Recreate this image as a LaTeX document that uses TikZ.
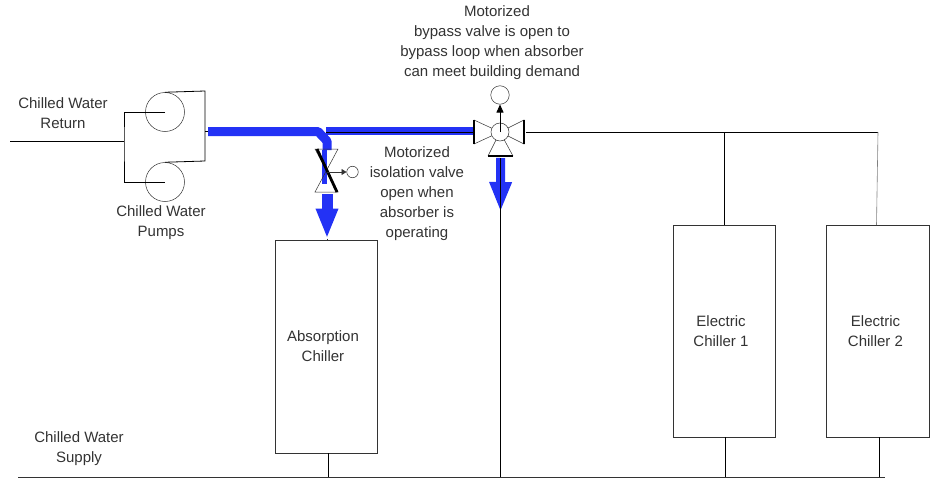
\documentclass[tikz,border=0pt]{standalone}
\usepackage{fontspec}
\setmainfont{Liberation Sans}
\usepackage{xcolor}
\usetikzlibrary{
    arrows.meta,
    shapes.geometric,
    positioning
}
\definecolor{flowblue}{HTML}{2332F5}
\definecolor{pipegray}{HTML}{333333}
\tikzset{
    % Chiller box
    chillerbox/.style={
        rectangle,
        draw=pipegray,
        fill=white,
        line width=0.8pt,
        font=\fontsize{15}{20}\selectfont,
        text=pipegray,
        align=center,
        inner sep=0pt
    },
    % Text label
    notelabel/.style={
        font=\fontsize{15}{20}\selectfont,
        text=pipegray,
        align=center,
        inner sep=0pt
    },
    % Pump or actuator circle
    pumpcircle/.style={
        circle,
        draw=pipegray,
        fill=none,
        line width=0.5pt,
        inner sep=0pt,
        minimum size=#1
    },
    % Plain pipe
    pipe/.style={
        draw=black,
        line width=0.8pt
    },
    % Thick flow line
    flowline/.style={
        draw=flowblue,
        line width=#1
    },
    % Flow arrow
    flowarrow/.style={
        -{Triangle[length=30pt,width=20.5pt]},
        draw=flowblue,
        line width=#1
    },
    % Valve body
    valvepart/.style={
        draw=pipegray,
        line width=0.5pt,
        fill=white
    }
}
\begin{document}
\begin{tikzpicture}[x=1pt, y=-1pt]
    \useasboundingbox (0,0) rectangle (935,479);

    % Chillers
    \node[chillerbox, minimum width=102pt, minimum height=213pt] (absorber) at (326,346.5) {Absorption\hspace*{6pt}\\Chiller\hspace*{6pt}};
    \node[chillerbox, minimum width=101.5pt, minimum height=212pt] (electric-a) at (724.5,331.3) {Electric\hspace*{7pt}\\Chiller 1\hspace*{7pt}};
    \node[chillerbox, minimum width=103pt, minimum height=212pt] (electric-b) at (877.5,331.3) {Electric\hspace*{4pt}\\Chiller 2\hspace*{4pt}};

    % Labels
    \node[notelabel] (return-label) at (63,113) {Chilled Water\\Return};
    \node[notelabel] (pumps-label) at (161,223) {Chilled Water\\Pumps};
    \node[notelabel] (bypass-label) at (492,42.5) {\hspace*{10pt}Motorized\\bypass valve is open to\\bypass loop when absorber\\can meet building demand};
    \node[notelabel] (isolation-label) at (417,193.5) {Motorized\\isolation valve\\open when\\absorber is\\operating};
    \node[notelabel] (supply-label) at (79,448.5) {Chilled Water\\Supply};

    % Pumps
    \node[pumpcircle=39pt] (pump-a) at (165,112) {};
    \node[pumpcircle=39pt] (pump-b) at (165,182) {};
    \coordinate (return-in) at (10,141);
    \coordinate (split) at (124,141);
    \coordinate (discharge) at (205,91);
    \draw[pipe] (return-in) -- (split);
    \draw[pipe] (pump-a.center) -| (split) |- (pump-b.center);
    \draw[pipe] (pump-a.north) -- (discharge) -- (205,161) -- (pump-b.north);

    % Blue flow to absorber
    \coordinate (flow-start) at (208,131.5);
    \coordinate (flow-bend) at (318,131.5);
    \coordinate (iso-valve) at (326.5,170.5);
    \coordinate (absorber-tip) at (327,238.5);
    \coordinate (bypass-valve) at (500,132);
    \draw[pipe] (205,131.5) -- (flow-start);
    \draw[flowline=9pt, line join=round] (flow-start) -- (flow-bend) -- (327,141) -- (327,150);
    \draw[flowline=8pt] (326,131) -- (475,131);
    \draw[flowline=5pt] (324.5,150) -- (324.5,184);
    \draw[flowarrow=11pt] (327,194) -- (absorber-tip);
    \draw[flowarrow=9pt] (500.7,158) -- (500.5,212);

    % Isolation valve
    \draw[valvepart, fill=none] (315,149) -- (338,149) -- (iso-valve) -- cycle;
    \draw[valvepart, fill=none] (315,192) -- (338,192) -- (iso-valve) -- cycle;
    \draw[line width=2.8pt] (317,149) -- (337,192);
    \node[pumpcircle=11.5pt] (iso-actuator) at (352.5,172) {};
    \draw[pipegray, line width=0.8pt, -{Triangle[length=5pt,width=6pt]}] (iso-valve |- iso-actuator) -- (iso-actuator.west);
    \draw[pipegray, line width=0.8pt] (absorber-tip) -- (absorber.north -| absorber-tip);

    % Bypass valve
    \draw[pipe] (326,132) -- (474,132);
    \draw[valvepart] (474,120) -- (bypass-valve) -- (474,144) -- cycle;
    \draw[valvepart] (524,120) -- (bypass-valve) -- (524,144) -- cycle;
    \draw[valvepart, fill=none] (488,156) -- (bypass-valve) -- (513,156);
    \node[pumpcircle=18pt, fill=white] (bypass-ball) at (bypass-valve) {};
    \node[pumpcircle=18.5pt] (bypass-actuator) at (500,95) {};
    \draw[pipe, line width=1.4pt] (474,120) -- (474,144);
    \draw[pipe, line width=1.2pt] (524,120) -- (524,144);
    \draw[pipe, line width=1.2pt] (488,156) -- (513,156);
    \draw[pipe, -{Triangle[length=8pt,width=7pt]}] (bypass-valve) -- (bypass-actuator.south);

    % Supply side pipes
    \coordinate (header-end) at (878,132);
    \coordinate (supply-start) at (18,477);
    \coordinate (supply-end) at (885,477);
    \draw[pipe] (526,132) -- (header-end);
    \draw[pipe] (electric-a.north |- header-end) -- (electric-a.north);
    \draw[gray, line width=0.6pt] (header-end) -- (876.5,225);
    \draw[pipegray, line width=1pt] (supply-start) -- (supply-end);
    \draw[pipe] (500.3,158) -- (500.3,477);
    \draw[pipe] (328,453) -- (328,477);
    \draw[pipe] (725,437.3) -- (725,477);
    \draw[pipe] (879.3,437.3) -- (879.3,477);

\end{tikzpicture}
\end{document}
